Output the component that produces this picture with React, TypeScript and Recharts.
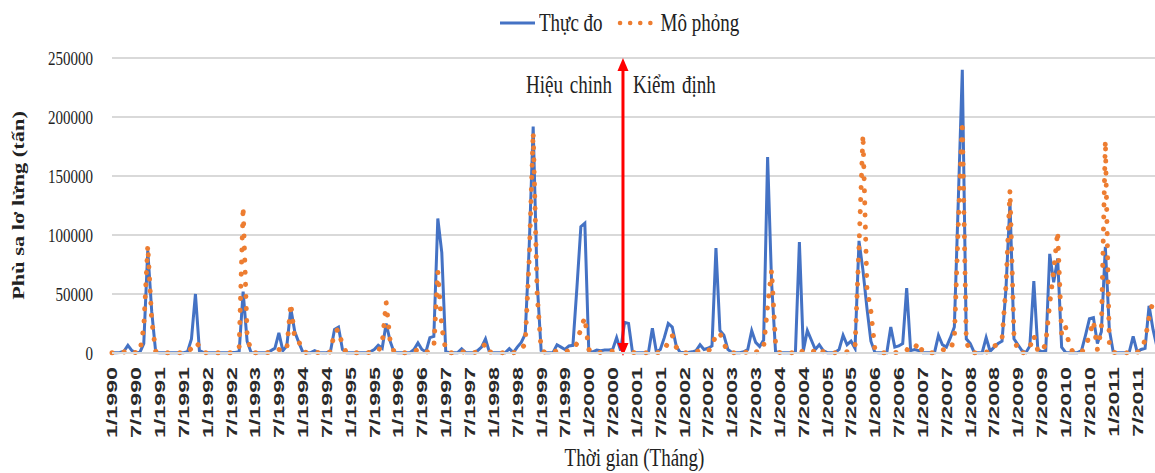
import React from 'react';
import { LineChart, Line, XAxis, YAxis, CartesianGrid, ReferenceLine, Legend, Label } from 'recharts';

// Monthly suspended sediment load (tonnes), Jan 1990 – Dec 2011
const years = [1990, 1991, 1992, 1993, 1994, 1995, 1996, 1997, 1998, 1999, 2000,
  2001, 2002, 2003, 2004, 2005, 2006, 2007, 2008, 2009, 2010, 2011];

const monthLabels = years.flatMap((y) => Array.from({ length: 12 }, (_, m) => `${m + 1}/${y}`));
const tickIndexes = monthLabels.map((_, i) => i).filter((i) => i % 6 === 0);
const yTicks = [0, 50000, 100000, 150000, 200000, 250000];

// Observed (Thực đo), one row per year
const thucDo = [
  300, 300, 500, 1500, 6500, 2000, 500, 500, 8000, 87000, 35000, 500,
  300, 300, 300, 300, 300, 300, 300, 1000, 12000, 50000, 2000, 500,
  300, 300, 300, 300, 300, 300, 500, 500, 1000, 52000, 10000, 500,
  300, 300, 300, 300, 2000, 4000, 17000, 2000, 6000, 38000, 18000, 9000,
  1000, 300, 300, 2000, 500, 300, 300, 1500, 20000, 22000, 3000, 300,
  300, 300, 300, 300, 300, 1000, 3000, 6500, 4000, 25000, 10000, 500,
  300, 300, 300, 300, 3000, 8500, 3000, 1000, 13000, 14000, 114000, 85000,
  1000, 300, 300, 300, 3500, 300, 300, 300, 2000, 5000, 12000, 500,
  300, 300, 300, 300, 3700, 300, 5000, 9000, 16000, 90000, 192000, 60000,
  2000, 300, 300, 500, 7000, 5000, 3000, 6000, 6500, 55000, 107000, 110000,
  1000, 1000, 2500, 2000, 2500, 2500, 3000, 13000, 2000, 26000, 25000, 500,
  300, 300, 300, 300, 21000, 1000, 3000, 13000, 25000, 22000, 6000, 500,
  500, 500, 1000, 2000, 7000, 3000, 4000, 6000, 89000, 19000, 15000, 3000,
  500, 300, 300, 1000, 3000, 19000, 9000, 5500, 11000, 166000, 60000, 1000,
  500, 300, 300, 300, 500, 94000, 2000, 19000, 11000, 3000, 7000, 2000,
  300, 300, 500, 3000, 15000, 7000, 10000, 4000, 95000, 70000, 38000, 10000,
  500, 300, 300, 300, 22000, 5000, 6000, 8000, 55000, 2000, 3000, 2000,
  300, 300, 300, 300, 15000, 7000, 5000, 13000, 22000, 130000, 240000, 12000,
  8000, 500, 300, 300, 13000, 1500, 5000, 8000, 10000, 55000, 128000, 12000,
  7000, 2000, 300, 6000, 61000, 3000, 1000, 2000, 84000, 60000, 80000, 5000,
  500, 300, 300, 300, 2000, 15000, 29000, 30000, 8000, 18000, 90000, 20000,
  500, 300, 300, 300, 500, 14000, 1000, 3000, 4000, 40000, 20000, 5000,
];

// Simulated (Mô phỏng), one row per year
const moPhong = [
  200, 200, 300, 800, 2500, 1000, 300, 500, 22000, 91000, 28000, 1500,
  200, 200, 200, 200, 200, 200, 300, 500, 4000, 9000, 6000, 300,
  200, 200, 200, 200, 300, 300, 300, 500, 5000, 124000, 15000, 1000,
  200, 200, 200, 300, 500, 1500, 3000, 1000, 4000, 42000, 12000, 10000,
  1500, 300, 200, 500, 300, 200, 200, 1000, 18000, 20000, 6000, 500,
  200, 200, 200, 200, 300, 500, 1000, 1500, 8000, 43000, 10000, 1000,
  200, 200, 200, 300, 1000, 3000, 1000, 500, 2000, 5000, 69000, 22000,
  2000, 200, 200, 300, 1500, 200, 200, 300, 1000, 4000, 8000, 1000,
  200, 200, 200, 300, 1500, 200, 1000, 3000, 8000, 80000, 187000, 50000,
  3000, 300, 300, 300, 2000, 1000, 1000, 2000, 3000, 8000, 21000, 30000,
  3000, 300, 300, 500, 1000, 1000, 1500, 2000, 4000, 5000, 3000, 500,
  200, 200, 200, 300, 1000, 300, 500, 3000, 9000, 15000, 5000, 500,
  300, 300, 500, 1000, 2000, 1000, 1500, 5000, 16000, 17000, 8000, 1000,
  300, 200, 200, 300, 1000, 3000, 1000, 1000, 5000, 40000, 70000, 8000,
  500, 200, 200, 200, 300, 3000, 500, 1000, 2000, 1000, 4000, 1000,
  200, 200, 300, 500, 1000, 1000, 2000, 5000, 90000, 185000, 55000, 35000,
  3000, 300, 200, 200, 1000, 500, 500, 1000, 3000, 1000, 4000, 9000,
  1000, 200, 200, 200, 1000, 3000, 2000, 3000, 12000, 110000, 196000, 10000,
  500, 200, 200, 200, 1000, 500, 6000, 7000, 12000, 57000, 138000, 15000,
  1000, 300, 200, 5000, 15000, 2000, 500, 8000, 42000, 70000, 103000, 15000,
  22000, 5000, 300, 200, 500, 5000, 15000, 27000, 3000, 20000, 180000, 8000,
  500, 200, 200, 200, 300, 2000, 500, 3000, 11000, 30000, 44000, 40000,
];

// Boundary between calibration and validation periods (month index)
const splitIndex = 128.6;

const data = monthLabels.map((label, idx) => ({
  idx,
  label,
  thucDo: thucDo[idx],
  moPhong: moPhong[idx],
}));

const SERIF = '"Liberation Serif", "Times New Roman", Times, serif';
const SANS = '"Liberation Sans", Arial, Helvetica, sans-serif';
const BLUE = '#4472C4';
const ORANGE = '#ED7D31';
const STRETCH = 1.28;

const YTick = (props: any) => {
  const { y, payload } = props;
  return (
    <text
      transform={`translate(93,${y}) scale(1,${STRETCH})`}
      textAnchor="end"
      dy="0.34em"
      fontFamily={SERIF}
      fontSize={15}
      fill="#222"
    >
      {payload.value}
    </text>
  );
};

const XTick = (props: any) => {
  const { x, payload } = props;
  return (
    <text
      transform={`translate(${x + 5.4},367) rotate(-90) scale(1.55,1)`}
      textAnchor="end"
      fontFamily={SANS}
      fontSize={15}
      fontWeight="bold"
      fill="#2a2a2a"
    >
      {monthLabels[payload.value]}
    </text>
  );
};

const SplitArrow = (props: any) => {
  const { x1, y1, y2 } = props;
  const top = Math.min(y1, y2);
  const bottom = Math.max(y1, y2) + 3;
  const x = x1;
  return (
    <g>
      <line x1={x} y1={top + 10} x2={x} y2={bottom - 10} stroke="#FF0000" strokeWidth={3} />
      <polygon points={`${x},${top} ${x - 5.5},${top + 13} ${x + 5.5},${top + 13}`} fill="#FF0000" />
      <polygon points={`${x},${bottom} ${x - 5.5},${bottom - 13} ${x + 5.5},${bottom - 13}`} fill="#FF0000" />
      <text
        transform={`translate(${x - 11},92.5) scale(1,${STRETCH})`}
        textAnchor="end"
        fontFamily={SERIF}
        fontSize={19}
        fill="#222"
        wordSpacing={2}
      >
        Hiệu chinh
      </text>
      <text
        transform={`translate(${x + 10},92.5) scale(1,${STRETCH})`}
        textAnchor="start"
        fontFamily={SERIF}
        fontSize={19}
        fill="#222"
        wordSpacing={2}
      >
        Kiểm định
      </text>
    </g>
  );
};

const legendText: React.CSSProperties = {
  display: 'inline-block',
  transform: `scaleY(${STRETCH})`,
  fontFamily: SERIF,
  fontSize: 19,
  color: '#222',
  lineHeight: '20px',
};

const renderLegend = () => (
  <div style={{ display: 'flex', alignItems: 'center', height: 46, paddingLeft: 500, boxSizing: 'border-box' }}>
    <svg width={36} height={10}>
      <line x1={0} y1={5} x2={35} y2={5} stroke={BLUE} strokeWidth={3} />
    </svg>
    <span style={{ ...legendText, marginLeft: 3 }}>Thực đo</span>
    <svg width={38} height={10} style={{ marginLeft: 14 }}>
      <line x1={3} y1={5} x2={35} y2={5} stroke={ORANGE} strokeWidth={4.5} strokeDasharray="0.1 10" strokeLinecap="round" />
    </svg>
    <span style={{ ...legendText, marginLeft: 6 }}>Mô phỏng</span>
  </div>
);

export default function App() {
  return (
    <div style={{ position: 'fixed', left: 0, top: 0, width: 1155, height: 473, overflow: 'hidden', background: '#fff' }}>
      <LineChart width={1160} height={473} data={data} margin={{ top: 58, right: 3, bottom: 0, left: 0 }}>
        <CartesianGrid vertical={false} stroke="#d9d9d9" strokeWidth={2} />
        <XAxis
          dataKey="idx"
          type="number"
          domain={[0, monthLabels.length - 1]}
          ticks={tickIndexes}
          interval={0}
          tick={<XTick />}
          tickLine={false}
          axisLine={{ stroke: '#d9d9d9', strokeWidth: 2 }}
          height={120}
        >
          <Label
            content={(p: any) => {
              const vb = p.viewBox || {};
              const cx = (vb.x ?? 112) + (vb.width ?? 1045) / 2;
              return (
                <text
                  transform={`translate(${cx},466) scale(1,${STRETCH})`}
                  textAnchor="middle"
                  fontFamily={SERIF}
                  fontSize={19}
                  fill="#222"
                >
                  Thời gian (Tháng)
                </text>
              );
            }}
          />
        </XAxis>
        <YAxis
          domain={[0, 250000]}
          ticks={yTicks}
          interval={0}
          tick={<YTick />}
          tickLine={false}
          axisLine={false}
          width={112}
        >
          <Label
            content={(p: any) => {
              const vb = p.viewBox || {};
              const cy = (vb.y ?? 58) + (vb.height ?? 295) / 2;
              return (
                <text
                  transform={`translate(24,${cy}) rotate(-90) scale(${STRETCH},1)`}
                  textAnchor="middle"
                  fontFamily={SERIF}
                  fontSize={17.5}
                  fontWeight="bold"
                  fill="#222"
                >
                  Phù sa lơ lửng (tấn)
                </text>
              );
            }}
          />
        </YAxis>
        <Legend
          content={renderLegend}
          layout="horizontal"
          verticalAlign="middle"
          align="center"
          wrapperStyle={{ top: 0, left: 0, width: 1155, height: 46 }}
        />
        <Line
          type="linear"
          dataKey="thucDo"
          name="Thực đo"
          stroke={BLUE}
          strokeWidth={3}
          dot={false}
          activeDot={false}
          isAnimationActive={false}
        />
        <Line
          type="linear"
          dataKey="moPhong"
          name="Mô phỏng"
          stroke={ORANGE}
          strokeWidth={5}
          strokeDasharray="0.1 12"
          strokeLinecap="round"
          dot={false}
          activeDot={false}
          isAnimationActive={false}
        />
        <ReferenceLine x={splitIndex} stroke="#FF0000" strokeWidth={3} shape={<SplitArrow />} />
      </LineChart>
    </div>
  );
}
